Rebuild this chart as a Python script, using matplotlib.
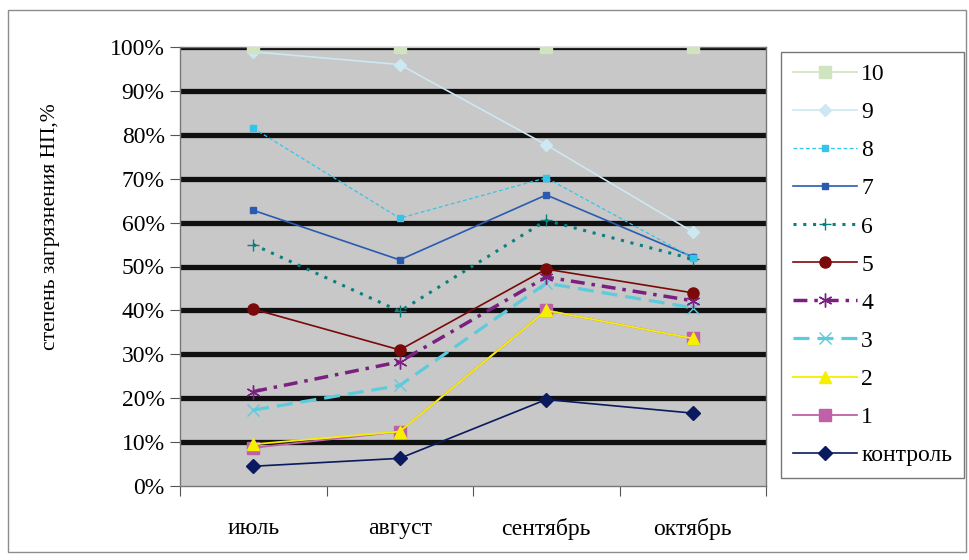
import matplotlib.pyplot as plt
from matplotlib.patches import Rectangle
from matplotlib.ticker import PercentFormatter

plt.rcParams['font.family'] = ['Liberation Serif', 'DejaVu Serif']

months = ['июль', 'август', 'сентябрь', 'октябрь']

s10 = [100, 100, 100, 100]
s9 = [98.9, 96.0, 77.7, 57.9]
s8 = [81.5, 61.0, 70.2, 52.0]
s7 = [62.8, 51.5, 66.3, 52.2]
s6 = [55.0, 39.8, 60.5, 51.7]
s5 = [40.3, 31.0, 49.4, 44.0]
s4 = [21.5, 28.3, 47.6, 42.2]
s3 = [17.3, 22.9, 46.2, 40.6]
s2 = [9.5, 12.4, 40.0, 33.6]
s1 = [8.7, 12.4, 40.0, 33.6]
control = [4.5, 6.3, 19.7, 16.6]

fig = plt.figure(figsize=(9.69, 5.6), dpi=100)
ax = fig.add_axes([180 / 969, 74 / 560, 586 / 969, 439 / 560])
ax.set_facecolor('#c8c8c8')

# outer frame of the whole chart
fig.patches.append(Rectangle((8 / 969, 8 / 560), 958 / 969, 542 / 560,
                             transform=fig.transFigure, fill=False,
                             edgecolor='#8c8c8c', linewidth=1))

# thick black gridlines
for v in range(10, 101, 10):
    ax.axhline(v, color='#101010', linewidth=3.8, zorder=1)

x = [0.5, 1.5, 2.5, 3.5]

series = [
    (s10, '10', dict(color='#d0e4c0', marker='s', markersize=8, linewidth=1.2, linestyle='-')),
    (s9, '9', dict(color='#cce8f2', marker='D', markersize=6, linewidth=1.2, linestyle='-')),
    (s8, '8', dict(color='#33c4ec', marker='s', markersize=5, linewidth=0.9, linestyle=(0, (3, 2)))),
    (s7, '7', dict(color='#2a5bb0', marker='s', markersize=4, linewidth=1.2, linestyle='-')),
    (s6, '6', dict(color='#0a7f7f', marker='+', markersize=9, linewidth=2.2, linestyle=(0, (1, 2.2)))),
    (s5, '5', dict(color='#7a0a0a', marker='o', markersize=8, linewidth=1.2, linestyle='-')),
    (s4, '4', dict(color='#7a2080', marker=(6, 2, 0), markersize=10, linewidth=2.5, linestyle=(0, (4, 2, 1, 2)))),
    (s3, '3', dict(color='#5ccbdb', marker='x', markersize=8, linewidth=2.3, linestyle=(0, (5, 2.5)))),
    (s2, '2', dict(color='#f5f000', marker='^', markersize=9, linewidth=1.3, linestyle='-')),
    (s1, '1', dict(color='#c060a8', marker='s', markersize=8, linewidth=1.3, linestyle='-')),
    (control, 'контроль', dict(color='#0a1a5e', marker='D', markersize=7, linewidth=1.2, linestyle='-')),
]

# draw from bottom to top so lighter series sit above
for vals, name, style in reversed(series):
    ax.plot(x, vals, label=name, zorder=3, **style)

ax.set_xlim(0, 4)
ax.set_ylim(0, 100)
ax.set_yticks(range(0, 101, 10))
ax.yaxis.set_major_formatter(PercentFormatter(decimals=0))
ax.set_xticks([0, 1, 2, 3, 4])
ax.set_xticklabels([])
ax.set_xticks(x, minor=True)
ax.set_xticklabels(months, minor=True)
ax.tick_params(axis='x', which='minor', length=0, labelsize=17, pad=23)
ax.tick_params(axis='x', which='major', length=7, direction='out', color='#555555')
ax.tick_params(axis='y', length=7, direction='out', color='#555555', labelsize=17, pad=4)

for side in ['top', 'left', 'right', 'bottom']:
    ax.spines[side].set_color('#777777')
    ax.spines[side].set_linewidth(1)

ax.set_ylabel('степень загрязнения НП,%', fontsize=15.5)
ax.yaxis.set_label_coords(-0.205, 0.59)

handles, labels = ax.get_legend_handles_labels()
order = list(reversed(range(len(handles))))
leg = fig.legend([handles[i] for i in order], [labels[i] for i in order],
                 loc='upper left', bbox_to_anchor=(781 / 969, 1 - 52 / 560),
                 fontsize=17, frameon=True, fancybox=False, framealpha=1,
                 edgecolor='#777777', handlelength=2.7, labelspacing=0.7,
                 handletextpad=0.2, borderpad=0.5, borderaxespad=0)
leg.get_frame().set_linewidth(1)

fig.savefig('out.png', dpi=100)
